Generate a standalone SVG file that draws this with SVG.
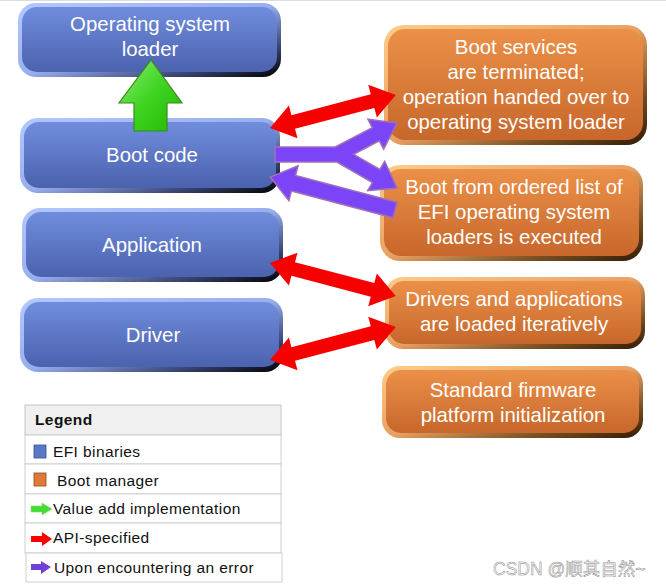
<svg xmlns="http://www.w3.org/2000/svg" width="666" height="588" viewBox="0 0 666 588">
<defs>
<linearGradient id="bEdge" x1="0" y1="0" x2="1" y2="1">
<stop offset="0" stop-color="#b4c8ff"/><stop offset="0.5" stop-color="#98aeee"/><stop offset="0.78" stop-color="#3c4878"/><stop offset="1" stop-color="#000"/>
</linearGradient>
<linearGradient id="bFill" x1="0" y1="0" x2="0" y2="1">
<stop offset="0" stop-color="#708ddd"/><stop offset="1" stop-color="#4b62ae"/>
</linearGradient>
<linearGradient id="oEdge" x1="0" y1="0" x2="1" y2="1">
<stop offset="0" stop-color="#ffcc88"/><stop offset="0.5" stop-color="#e8a062"/><stop offset="0.78" stop-color="#7a5022"/><stop offset="1" stop-color="#301a06"/>
</linearGradient>
<linearGradient id="oFill" x1="0" y1="0" x2="0" y2="1">
<stop offset="0" stop-color="#eb9048"/><stop offset="1" stop-color="#c7672b"/>
</linearGradient>
<linearGradient id="gFill" x1="0" y1="0" x2="1" y2="1">
<stop offset="0" stop-color="#8af070"/><stop offset="0.5" stop-color="#3fd422"/><stop offset="1" stop-color="#22b800"/>
</linearGradient>
<polygon id="dbl" points="0,0 24,-17 24,-7 106,-7 106,-17 130,0 106,17 106,7 24,7 24,17"/>
<polygon id="sgl" points="0,-8 105,-8 105,-18 129,0 105,18 105,8 0,8"/>
</defs>
<style>
.bo{fill:url(#bEdge)}
.bi{fill:url(#bFill)}
.oo{fill:url(#oEdge)}
.oi{fill:url(#oFill)}
.t{font-family:"Liberation Sans",Arial,sans-serif;font-size:20.4px;fill:#fff;text-anchor:middle}
.red{fill:#f60000}
.pur{fill:#7b45f7;stroke:#a070b8;stroke-width:1.5;stroke-linejoin:miter}
.lg{font-family:"Liberation Sans",Arial,sans-serif;font-size:15.5px;fill:#111;letter-spacing:0.4px}
.row{fill:#fff;stroke:#cfcfcf;stroke-width:1}
</style>
<rect width="666" height="588" fill="#fff"/>
<line x1="0" y1="0.5" x2="666" y2="0.5" stroke="#ddd"/>

<g id="n_os_loader">
<rect class="bo" x="18" y="3" width="263" height="74" rx="18"/>
<rect class="bi" x="22" y="7" width="255" height="65" rx="15"/>
<text class="t" x="150" y="31">Operating system</text>
<text class="t" x="150" y="56">loader</text>
</g>
<g id="n_boot_code">
<rect class="bo" x="20" y="118" width="260" height="75" rx="18"/>
<rect class="bi" x="24" y="122" width="252" height="66" rx="15"/>
<text class="t" x="152" y="162">Boot code</text>
</g>
<g id="n_application">
<rect class="bo" x="22" y="208" width="261" height="74" rx="18"/>
<rect class="bi" x="26" y="212" width="253" height="65" rx="15"/>
<text class="t" x="152" y="252">Application</text>
</g>
<g id="n_driver">
<rect class="bo" x="20" y="298" width="263" height="74" rx="18"/>
<rect class="bi" x="24" y="302" width="255" height="65" rx="15"/>
<text class="t" x="153" y="342">Driver</text>
</g>

<g id="o_terminated">
<rect class="oo" x="384" y="25" width="263" height="120" rx="20"/>
<rect class="oi" x="388" y="29" width="255" height="111" rx="17"/>
<text class="t" x="516" y="54">Boot services</text>
<text class="t" x="516" y="79">are terminated;</text>
<text class="t" x="516" y="104">operation handed over to</text>
<text class="t" x="516" y="129">operating system loader</text>
</g>
<g id="o_ordered_list">
<rect class="oo" x="380" y="165" width="263" height="96" rx="20"/>
<rect class="oi" x="384" y="169" width="255" height="87" rx="17"/>
<text class="t" x="514" y="194">Boot from ordered list of</text>
<text class="t" x="514" y="219">EFI operating system</text>
<text class="t" x="514" y="244">loaders is executed</text>
</g>
<g id="o_iterative">
<rect class="oo" x="385" y="277" width="260" height="72" rx="18"/>
<rect class="oi" x="389" y="281" width="252" height="63" rx="15"/>
<text class="t" x="514" y="306">Drivers and applications</text>
<text class="t" x="514" y="331">are loaded iteratively</text>
</g>
<g id="o_standard">
<rect class="oo" x="382" y="366" width="261" height="72" rx="18"/>
<rect class="oi" x="386" y="370" width="253" height="63" rx="15"/>
<text class="t" x="513" y="397">Standard firmware</text>
<text class="t" x="513" y="422">platform initialization</text>
</g>

<g id="connectors">
<polygon points="151,60 182,103 167,103 167,131 134,131 134,103 119,103" fill="url(#gFill)" stroke="#3a8a20" stroke-width="1.2"/>
<use href="#dbl" class="red" transform="translate(270,128) rotate(-14.68)"/>
<use href="#dbl" class="red" transform="translate(270,263) rotate(14.68)"/>
<use href="#dbl" class="red" transform="translate(270,360) rotate(-14.68)"/>
<polygon class="pur" points="275,147 335.4,147 372.3,127.6 367.9,119.2 397,123 383.7,149.2 379.3,140.8 353.6,154.3 379.9,169.5 384.7,161.3 397,188 367.7,190.7 372.5,182.5 336.9,162 275,162"/>
<use href="#sgl" class="pur" transform="translate(395,210) rotate(194.79)"/>
</g>

<g id="legend">
<rect x="25" y="405" width="256" height="30" fill="#f0f0f0" stroke="#c4c4c4"/>
<text class="lg" x="35" y="425" font-weight="bold" letter-spacing="0">Legend</text>
<rect class="row" x="25" y="435" width="256" height="29"/>
<rect class="row" x="25" y="464" width="256" height="30"/>
<rect class="row" x="25" y="494" width="256" height="29"/>
<rect class="row" x="25" y="523" width="256" height="30"/>
<rect class="row" x="26" y="553" width="256" height="29"/>
<rect x="34" y="445" width="12" height="13" fill="#5b77c8" stroke="#3a4f90" stroke-width="0.8"/>
<text class="lg" x="53" y="457">EFI binaries</text>
<rect x="34" y="473" width="12" height="13" fill="#e07a38" stroke="#8a4a20" stroke-width="0.8"/>
<text class="lg" x="57" y="486">Boot manager</text>
<polygon points="31,506 42,506 42,503 52,509 42,515 42,512 31,512" fill="#44dd33" stroke="#8ad870" stroke-width="0.6"/>
<text class="lg" x="53" y="514">Value add implementation</text>
<polygon points="31,536 42,536 42,532 52,539 42,546 42,542 31,542" fill="#f00"/>
<text class="lg" x="53" y="543">API-specified</text>
<polygon points="31,564 41,564 41,561 51,567 41,574 41,570 31,570" fill="#7040d8"/>
<text class="lg" x="54" y="573">Upon encountering an error</text>
</g>

<text x="493" y="575" font-family="'Liberation Sans','Noto Sans CJK SC',sans-serif" font-size="17.5" fill="#f6f6f6" stroke="#909090" stroke-width="0.5">CSDN @顺其自然~</text>
</svg>
